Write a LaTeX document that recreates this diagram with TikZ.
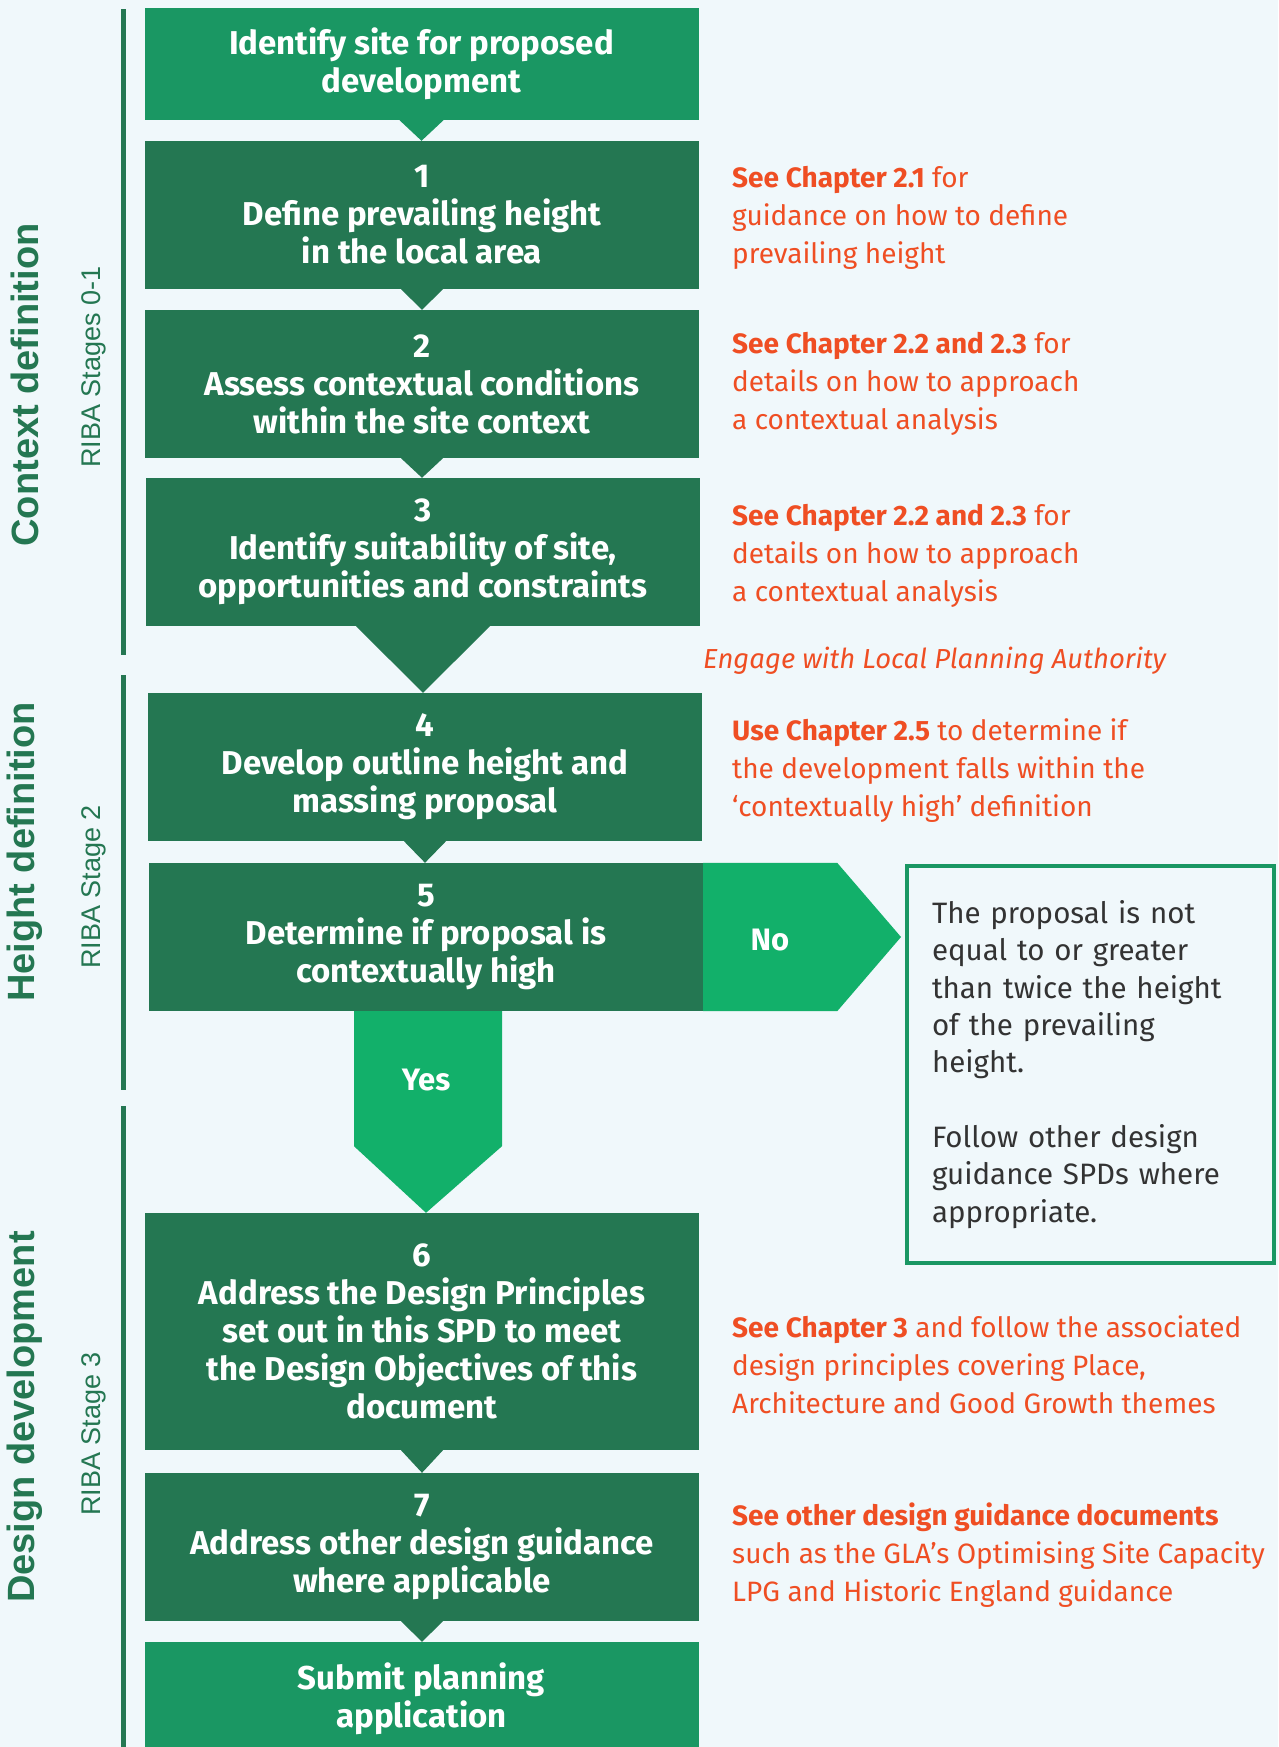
\documentclass[tikz,border=0pt]{standalone}
\usepackage{fontspec}
\setmainfont{Fira Sans}
\newfontfamily\sidefont{Liberation Sans}
\usetikzlibrary{calc}
\definecolor{paper}{HTML}{F0F8FB}
\definecolor{darkgreen}{HTML}{247752}
\definecolor{midgreen}{HTML}{1A9763}
\definecolor{brightgreen}{HTML}{12B06A}
\definecolor{notered}{HTML}{EF4E23}
\definecolor{greytext}{HTML}{333333}

\begin{document}
\begin{tikzpicture}[x=1pt,y=-1pt,
    stage/.style={fill=darkgreen,text=white,minimum width=554pt,minimum height=148pt,inner sep=0pt,align=center,
      font=\fontsize{33}{38}\selectfont\bfseries},
    endstage/.style={stage,fill=midgreen},
    note/.style={anchor=west,align=left,text=notered,inner sep=0pt,font=\fontsize{28}{38}\selectfont},
    answer/.style={text=white,font=\fontsize{31}{31}\selectfont\bfseries},
    phase/.style={rotate=90,text=darkgreen,font=\sidefont\fontsize{38}{38}\selectfont\bfseries},
    riba/.style={rotate=90,text=darkgreen,font=\sidefont\fontsize{27}{27}\selectfont}]
    \tikzstyle{outcome}=[draw=midgreen,line width=4pt,minimum width=367pt,minimum height=397pt,text width=317pt,
      inner xsep=25pt,align=left,text=greytext,font=\fontsize{29.5}{37.3}\selectfont]

    \path[use as bounding box,fill=paper] (0,0) rectangle (1278,1747);

    \fill[darkgreen] (121,9) rectangle (125.5,655);
    \fill[darkgreen] (121,675) rectangle (125.5,1090);
    \fill[darkgreen] (121,1106) rectangle (125.5,1747);

    \node[phase] (ctx) at (25,385) {Context definition};
    \node[riba] (ctxriba) at (94,367) {RIBA Stages 0-1};
    \node[phase] (hgt) at (25,852) {Height definition};
    \node[riba] (hgtriba) at (94,887) {RIBA Stage 2};
    \node[phase] (dsg) at (25,1417) {Design development};
    \node[riba] (dsgriba) at (94,1434) {RIBA Stage 3};

    \node[endstage,minimum height=112pt] (start) at (421.5,64) {Identify site for proposed\\development};
    \node[stage] (b1) at (422,215) {1\\Define prevailing height\\in the local area};
    \node[stage] (b2) at (422,384) {2\\Assess contextual conditions\\within the site context};
    \node[stage] (b3) at (423,552) {3\\Identify suitability of site,\\opportunities and constraints};
    \node[stage] (b4) at (425,767) {4\\Develop outline height and\\massing proposal};
    \node[stage] (b5) at (426,937) {5\\Determine if proposal is\\contextually high};
    \node[stage,minimum height=237pt] (b6) at (422,1331.5) {6\\Address the Design Principles\\set out in this SPD to meet\\the Design Objectives of this\\document};
    \node[stage] (b7) at (422,1547) {7\\Address other design guidance\\where applicable};
    \node[endstage,minimum height=114pt] (submit) at (421.5,1699) {Submit planning\\application};

    \node[outcome] (nobox) at (1090.5,1064.5) {The proposal is not\\equal to or greater\\than twice the height\\of the prevailing\\height.\\[37.3pt]Follow other design\\guidance SPDs where\\appropriate.};

    \fill[midgreen] ($(start.south)+(-22,0)$) -- ($(start.south)+(22,0)$) -- (start.south |- b1.north) -- cycle;
    \foreach \a/\b in {b1/b2,b2/b3,b4/b5,b6/b7,b7/submit}
      \fill[darkgreen] ($(\a.south)+(-21,0)$) -- ($(\a.south)+(21,0)$) -- (\a.south |- \b.north) -- cycle;
    \fill[darkgreen] ($(b3.south)+(-67,0)$) -- ($(b3.south)+(67,0)$) -- (b3.south |- b4.north) -- cycle;

    \fill[brightgreen] (b5.north east) -- ++(134,0) -- ($(b5.east -| nobox.west)+(-4,0)$) -- ($(b5.south east)+(134,0)$) -- (b5.south east) -- cycle;
    \fill[brightgreen] ($(b5.south)+(-72,0)$) -- ++(0,135) -- (b5.south |- b6.north) -- ($(b5.south)+(76,135)$) -- ($(b5.south)+(76,0)$) -- cycle;
    \node[answer] (no) at (770,940) {No};
    \node[answer] (yes) at (426,1080) {Yes};

    \node[note] (n1) at (732,218) {{\bfseries See Chapter 2.1} for\\guidance on how to define\\prevailing height};
    \node[note] (n2) at (732,384) {{\bfseries See Chapter 2.2 and 2.3} for\\details on how to approach\\a contextual analysis};
    \node[note] (n3) at (732,556) {{\bfseries See Chapter 2.2 and 2.3} for\\details on how to approach\\a contextual analysis};
    \node[note,font=\fontsize{27.5}{38}\selectfont\itshape] (engage) at (703,661) {Engage with Local Planning Authority};
    \node[note] (n4) at (732,771) {{\bfseries Use Chapter 2.5} to determine if\\the development falls within the\\‘contextually high’ definition};
    \node[note] (n6) at (732,1365) {{\bfseries See Chapter 3} and follow the associated\\design principles covering Place,\\Architecture and Good Growth themes};
    \node[note] (n7) at (732,1555) {{\bfseries See other design guidance documents}\\such as the GLA’s Optimising Site Capacity\\LPG and Historic England guidance};

  \end{tikzpicture}
\end{document}
